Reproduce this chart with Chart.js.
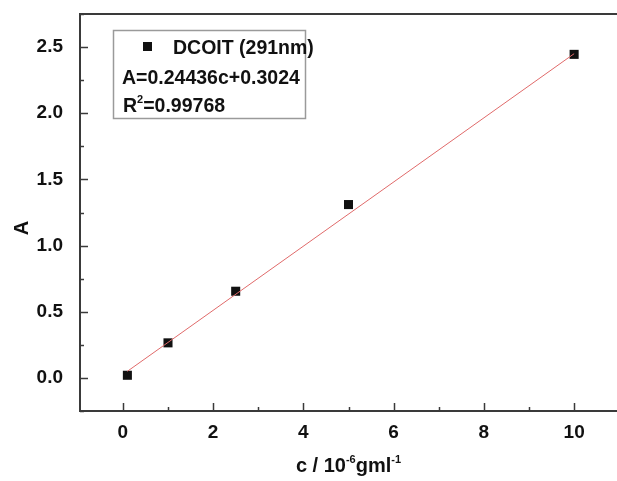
<!DOCTYPE html>
<html>
<head>
<meta charset="utf-8">
<script src="https://cdn.jsdelivr.net/npm/chart.js@4.4.1/dist/chart.umd.min.js"></script>
<style>
  html, body { margin: 0; padding: 0; background: #fff; }
  #wrap { width: 617px; height: 481px; }
</style>
</head>
<body>
<div id="wrap"><canvas id="calib" width="617" height="481"></canvas></div>
<script>
/* calibration data */
const concentration = [0.1, 1, 2.5, 5, 10];          // c / 10^-6 g/ml
const absorbance = [0.02, 0.265, 0.655, 1.31, 2.445]; // A
const fitX = [0.1, 10];                               // fitted line ends
const fitY = [0.05, 2.45];
const xMajorTicks = [0, 2, 4, 6, 8, 10];
const yMajorTicks = [0.0, 0.5, 1.0, 1.5, 2.0, 2.5];
const legendLabel = 'DCOIT (291nm)';
const fitEquation = 'A=0.24436c+0.3024';
const fitR2 = '=0.99768';

const FONT = '"Liberation Sans", Arial, sans-serif';
const AXIS = '#3a3a3a';

const isMajor = (list, v) => list.some(m => Math.abs(m - v) < 1e-6);

// frame, inward ticks, legend box, axis titles
const decor = {
  id: 'decor',
  afterDraw(chart) {
    const { ctx, chartArea: a, scales: { x, y } } = chart;
    ctx.save();

    // frame (right side sits past the canvas edge)
    ctx.strokeStyle = AXIS;
    ctx.lineWidth = 2;
    ctx.beginPath();
    ctx.moveTo(a.right + 5, a.top); ctx.lineTo(a.left, a.top);
    ctx.lineTo(a.left, a.bottom); ctx.lineTo(a.right + 5, a.bottom);
    ctx.stroke();

    ctx.lineWidth = 1.5;
    x.ticks.forEach(t => {
      const px = Math.round(x.getPixelForValue(t.value)) + 0.5;
      const len = isMajor(xMajorTicks, t.value) ? 8 : 4;
      ctx.beginPath(); ctx.moveTo(px, a.bottom); ctx.lineTo(px, a.bottom - len); ctx.stroke();
    });
    y.ticks.forEach(t => {
      const py = Math.round(y.getPixelForValue(t.value)) + 0.5;
      const len = isMajor(yMajorTicks, t.value) ? 8 : 4;
      ctx.beginPath(); ctx.moveTo(a.left, py); ctx.lineTo(a.left + len, py); ctx.stroke();
    });

    // legend box
    ctx.fillStyle = '#fff';
    ctx.fillRect(113, 30, 192, 88);
    ctx.strokeStyle = '#9a9a9a';
    ctx.lineWidth = 1.5;
    ctx.strokeRect(113.5, 30.5, 192, 88);

    ctx.fillStyle = '#111';
    ctx.fillRect(143, 42, 9, 9);
    ctx.font = 'bold 19.5px ' + FONT;
    ctx.textBaseline = 'alphabetic';
    ctx.textAlign = 'left';
    ctx.fillText(legendLabel, 173, 54);
    ctx.fillText(fitEquation, 122, 84);
    ctx.fillText('R', 123, 112);
    const rW = ctx.measureText('R').width;
    ctx.font = 'bold 11px ' + FONT;
    ctx.fillText('2', 123 + rW, 103);
    const sW = ctx.measureText('2').width;
    ctx.font = 'bold 19.5px ' + FONT;
    ctx.fillText(fitR2, 123 + rW + sW, 112);

    // y title
    ctx.save();
    ctx.translate(28, 228);
    ctx.rotate(-Math.PI / 2);
    ctx.textAlign = 'center';
    ctx.font = 'bold 20px ' + FONT;
    ctx.fillText('A', 0, 0);
    ctx.restore();

    // x title with superscripts
    const parts = [
      ['c / 10', 20, 0], ['-6', 11, -9], ['gml', 20, 0], ['-1', 11, -9]
    ];
    let total = 0;
    parts.forEach(p => { ctx.font = 'bold ' + p[1] + 'px ' + FONT; p.push(ctx.measureText(p[0]).width); total += p[3]; });
    let cx = (a.left + a.right) / 2 - total / 2;
    parts.forEach(p => {
      ctx.font = 'bold ' + p[1] + 'px ' + FONT;
      ctx.fillText(p[0], cx, 472 + p[2]);
      cx += p[3];
    });

    ctx.restore();
  }
};

new Chart(document.getElementById('calib'), {
  type: 'scatter',
  data: {
    datasets: [
      {
        type: 'line',
        data: fitX.map((v, i) => ({ x: v, y: fitY[i] })),
        borderColor: '#e06a6a',
        borderWidth: 1,
        pointRadius: 0,
        fill: false
      },
      {
        data: concentration.map((v, i) => ({ x: v, y: absorbance[i] })),
        pointStyle: 'rect',
        pointRadius: 6.4,
        backgroundColor: '#111',
        borderColor: '#111',
        borderWidth: 0
      }
    ]
  },
  options: {
    responsive: false,
    animation: false,
    layout: { autoPadding: false, padding: { top: 14, right: 0, left: 0, bottom: 0 } },
    plugins: { legend: { display: false }, tooltip: { enabled: false } },
    scales: {
      x: {
        type: 'linear',
        min: -0.95, max: 10.95,
        grid: { display: false },
        border: { display: false },
        afterFit: s => { s.height = 70; s.paddingRight = 0; s.paddingLeft = 0; },
        ticks: {
          stepSize: 1, includeBounds: false, padding: 2, color: '#111',
          font: { family: FONT, size: 19, weight: 'bold' },
          maxRotation: 0, autoSkip: false,
          callback: v => isMajor(xMajorTicks, v) ? String(v) : ''
        }
      },
      y: {
        min: -0.25, max: 2.75,
        grid: { display: false },
        border: { display: false },
        afterFit: s => { s.width = 80; s.paddingTop = 0; s.paddingBottom = 0; },
        ticks: {
          stepSize: 0.25, includeBounds: false, padding: 9, color: '#111',
          font: { family: FONT, size: 19, weight: 'bold' },
          autoSkip: false,
          callback: v => isMajor(yMajorTicks, v) ? v.toFixed(1) : ''
        }
      }
    }
  },
  plugins: [decor]
});
</script>
</body>
</html>
